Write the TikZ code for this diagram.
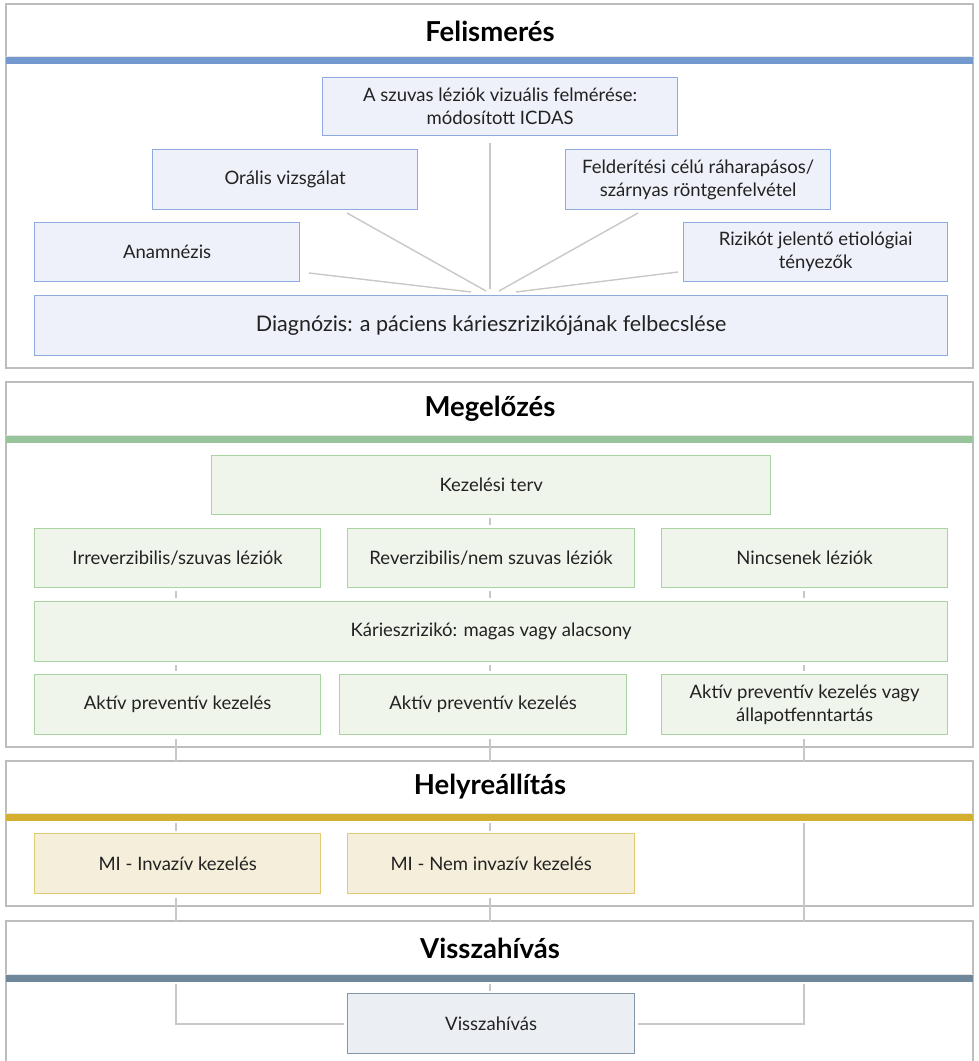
\documentclass[tikz,border=0pt]{standalone}
\usepackage{fontspec}
\setmainfont{Lato}
\definecolor{secline}{HTML}{BDBDBD}
\definecolor{connc}{HTML}{C8C8C8}
\definecolor{txt}{HTML}{222222}
\definecolor{barB}{HTML}{7399CF}
\definecolor{barG}{HTML}{97C49A}
\definecolor{barY}{HTML}{D4AE2F}
\definecolor{barS}{HTML}{6E879B}
\definecolor{bFill}{HTML}{EEF1F9}
\definecolor{bDraw}{HTML}{8FAADC}
\definecolor{gFill}{HTML}{F0F5EC}
\definecolor{gDraw}{HTML}{A9D3A0}
\definecolor{yFill}{HTML}{F4EEDA}
\definecolor{yDraw}{HTML}{E2CA72}
\definecolor{sFill}{HTML}{EBEEF3}
\definecolor{sDraw}{HTML}{8497A8}
\pgfdeclarelayer{bg}
\pgfdeclarelayer{mid}
\pgfsetlayers{bg,mid,main}
\tikzset{
  x=1pt, y=-1pt,
  basebox/.style={line width=1.3pt, inner sep=0pt, align=center, anchor=north west,
     text=txt, font=\fontsize{18.5}{23}\selectfont},
  bbox/.style={basebox, draw=bDraw, fill=bFill},
  gbox/.style={basebox, draw=gDraw, fill=gFill},
  ybox/.style={basebox, draw=yDraw, fill=yFill},
  sbox/.style={basebox, draw=sDraw, fill=sFill},
  conn/.style={draw=connc, line width=1.4pt},
  gap/.style={shorten <=3pt, shorten >=3pt},
  secbox/.style={draw=secline, line width=1.4pt},
  sectitle/.style={font=\bfseries\fontsize{27.5}{32}\selectfont, text=black},
}
\newcommand{\secheader}[3]{% top y, bar y, color
  \fill[white] (7,#1+1) rectangle (972,#2+9);
  \draw[draw=secline!40, line width=0.8pt] (6,#2-1) -- (973,#2-1);
  \fill[#3] (6,#2) rectangle (973,#2+7);
}
\begin{document}
\begin{tikzpicture}
\useasboundingbox (0,0) rectangle (978,1061);
% column coordinates
\coordinate (colA) at (176,0);
\coordinate (colB) at (490,0);
\coordinate (colC) at (804,0);

% ---- Section 1 boxes ----
\node[bbox, minimum width=355pt, minimum height=58pt] (icdas) at (322,77) {A szuvas léziók vizuális felmérése:\\ módosított ICDAS};
\node[bbox, minimum width=265pt, minimum height=60pt] (oral) at (152,149) {Orális vizsgálat};
\node[bbox, minimum width=265pt, minimum height=60pt] (feld) at (565,149) {Felderítési célú ráharapásos/\\ szárnyas röntgenfelvétel};
\node[bbox, minimum width=265pt, minimum height=59pt] (anam) at (34,222) {Anamnézis};
\node[bbox, minimum width=264pt, minimum height=59pt] (rizk) at (683,222) {Rizikót jelentő etiológiai\\ tényezők};
\node[bbox, minimum width=913pt, minimum height=60pt, font=\fontsize{21.5}{25}\selectfont] (diag) at (34,295) {Diagnózis: a páciens kárieszrizikójának felbecslése};

% ---- Section 2 boxes ----
\node[gbox, minimum width=559pt, minimum height=59pt] (kez) at (211,455) {Kezelési terv};
\node[gbox, minimum width=286pt, minimum height=59pt] (irr) at (34,528) {Irreverzibilis/szuvas léziók};
\node[gbox, minimum width=287pt, minimum height=59pt] (rev) at (347,528) {Reverzibilis/nem szuvas léziók};
\node[gbox, minimum width=286pt, minimum height=59pt] (nin) at (661,528) {Nincsenek léziók};
\node[gbox, minimum width=913pt, minimum height=60pt] (kar) at (34,601) {Kárieszrizikó: magas vagy alacsony};
\node[gbox, minimum width=286pt, minimum height=60pt] (ak1) at (34,674) {Aktív preventív kezelés};
\node[gbox, minimum width=287pt, minimum height=60pt] (ak2) at (339,674) {Aktív preventív kezelés};
\node[gbox, minimum width=286pt, minimum height=60pt] (ak3) at (661,674) {Aktív preventív kezelés vagy\\ állapotfenntartás};

% ---- Section 3 boxes ----
\node[ybox, minimum width=286pt, minimum height=60pt] (inv) at (34,833) {MI - Invazív kezelés};
\node[ybox, minimum width=287pt, minimum height=60pt] (ninv) at (347,833) {MI - Nem invazív kezelés};

% ---- Section 4 box ----
\node[sbox, minimum width=287pt, minimum height=60pt] (vis) at (347,993) {Visszahívás};

% ---- section frames and connectors ----
\begin{pgfonlayer}{bg}
  \fill[white] (0,0) rectangle (978,1061);
  \draw[secbox] (6,4) rectangle (973,368);
  \draw[secbox] (6,382) rectangle (973,747);
  \draw[secbox] (6,761) rectangle (973,906);
  \draw[secbox] (6,1062) -- (6,921) -- (973,921) -- (973,1062);
  % section 1 fan
  \coordinate (icdasEnd) at (490,143);
  \coordinate (hubV) at (490,289);
  \coordinate (oralS) at (347,213);
  \coordinate (hubO) at (486,291);
  \coordinate (feldS) at (638,213);
  \coordinate (hubF) at (499,291);
  \coordinate (anamS) at (309,273);
  \coordinate (hubA) at (471,292);
  \coordinate (rizkS) at (678,272);
  \coordinate (hubR) at (516,292);
  \draw[conn] (icdasEnd) -- (hubV);
  \draw[conn] (oralS) -- (hubO);
  \draw[conn] (feldS) -- (hubF);
  \draw[conn] (anamS) -- (hubA);
  \draw[conn] (rizkS) -- (hubR);
  % section 2
  \draw[conn, gap] (colB |- kez.south) -- (colB |- rev.north);
  \draw[conn, gap] (colA |- irr.south) -- (colA |- kar.north);
  \draw[conn, gap] (colB |- rev.south) -- (colB |- kar.north);
  \draw[conn, gap] (colC |- nin.south) -- (colC |- kar.north);
  \draw[conn, gap] (colA |- kar.south) -- (colA |- ak1.north);
  \draw[conn, gap] (colB |- kar.south) -- (colB |- ak2.north);
  \draw[conn, gap] (colC |- kar.south) -- (colC |- ak3.north);
  % to section 3
  \draw[conn, shorten <=4pt, shorten >=2pt] (colA |- ak1.south) -- (colA |- inv.north);
  \draw[conn, shorten <=4pt, shorten >=2pt] (colB |- ak2.south) -- (colB |- ninv.north);
  % to section 4
  \coordinate (visL) at (176,1024);
  \coordinate (visR) at (804,1024);
  \draw[conn, shorten <=4pt, shorten >=3pt] (colA |- inv.south) -- (visL) -- (vis.west |- visL);
  \draw[conn, shorten <=4pt, shorten >=2pt] (colB |- ninv.south) -- (colB |- vis.north);
  \draw[conn, shorten <=4pt, shorten >=3pt] (colC |- ak3.south) -- (visR) -- (vis.east |- visR);
\end{pgfonlayer}

% ---- section headers ----
\begin{pgfonlayer}{mid}
  \secheader{4}{57}{barB}
  \secheader{382}{436}{barG}
  \secheader{761}{814}{barY}
  \secheader{921}{975}{barS}
  \node[sectitle] (t1) at (490,31) {Felismerés};
  \node[sectitle] (t2) at (490,409) {Megelőzés};
  \node[sectitle] (t3) at (490,787) {Helyreállítás};
  \node[sectitle] (t4) at (490,948) {Visszahívás};
\end{pgfonlayer}
\end{tikzpicture}
\end{document}
